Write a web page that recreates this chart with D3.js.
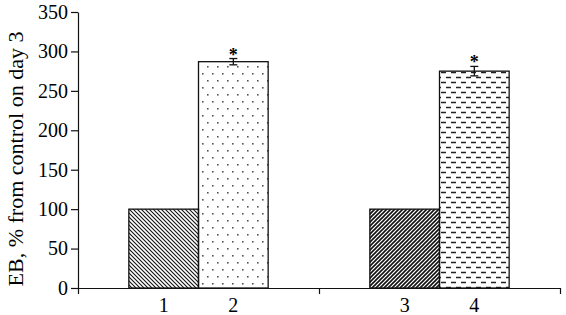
<!DOCTYPE html>
<html>
<head>
<script src="https://cdn.jsdelivr.net/npm/d3@7"></script>
<style>
  svg text, svg .tick text { font-family: "Liberation Serif" !important; fill: #000; }
</style>
</head>
<body style="margin:0">
<script>
// Chart size and margins
const WIDTH = 566;
const HEIGHT = 315;
const MARGIN = { left: 78, right: 6, top: 12, bottom: 27 };
const FONT = "Liberation Serif";

// Data
const groups = ["A", "B"];
const barLabels = ["1", "2", "3", "4"];
const barGroup = ["A", "A", "B", "B"];
const values = [100, 287, 100, 275];
const errors = [0, 4, 0, 6];
const marked = [false, true, false, true];
const yTicks = [0, 50, 100, 150, 200, 250, 300, 350];
const yLabel = "EB, % from control on day 3";
const patterns = ["hatchBack", "dots", "hatchFwd", "dashes"];

const svg = d3.select("body").append("svg")
  .attr("width", WIDTH)
  .attr("height", HEIGHT)
  .attr("font-family", FONT);

// Fill patterns for the bars
const defs = svg.append("defs");

let p = defs.append("pattern").attr("id", "hatchBack")
  .attr("patternUnits", "userSpaceOnUse").attr("width", 4).attr("height", 4);
p.append("path").attr("d", "M-1,-1 L5,5 M-1,3 L1,5 M3,-1 L5,1")
  .attr("stroke", "#111").attr("stroke-width", 1.1);

p = defs.append("pattern").attr("id", "hatchFwd")
  .attr("patternUnits", "userSpaceOnUse").attr("width", 4).attr("height", 4);
p.append("path").attr("d", "M-1,5 L5,-1 M-1,1 L1,-1 M3,5 L5,3")
  .attr("stroke", "#111").attr("stroke-width", 1.6);

p = defs.append("pattern").attr("id", "dots")
  .attr("patternUnits", "userSpaceOnUse").attr("width", 10).attr("height", 14);
p.append("rect").attr("x", 2).attr("y", 3).attr("width", 1.6).attr("height", 1.6).attr("fill", "#555");
p.append("rect").attr("x", 7).attr("y", 10).attr("width", 1.6).attr("height", 1.6).attr("fill", "#555");

p = defs.append("pattern").attr("id", "dashes")
  .attr("patternUnits", "userSpaceOnUse").attr("width", 10).attr("height", 10);
p.append("path").attr("d", "M1,2.5 H6 M6,7.5 H11 M-4,7.5 H1")
  .attr("stroke", "#222").attr("stroke-width", 1.4);

// Scales
const x0 = d3.scaleBand()
  .domain(groups)
  .range([MARGIN.left, WIDTH - MARGIN.right])
  .padding(0);
const x1 = d3.scaleBand()
  .domain([0, 1])
  .range([0, x0.bandwidth()])
  .paddingInner(0)
  .paddingOuter(0.73);
const y = d3.scaleLinear()
  .domain([0, 350])
  .range([HEIGHT - MARGIN.bottom, MARGIN.top]);

const barX = (i) => x0(barGroup[i]) + x1(i % 2);

// Bars
svg.append("g").selectAll("rect")
  .data(values)
  .join("rect")
  .attr("x", (d, i) => barX(i))
  .attr("y", (d) => y(d))
  .attr("width", x1.bandwidth())
  .attr("height", (d) => y(0) - y(d))
  .attr("fill", (d, i) => `url(#${patterns[i]})`)
  .attr("stroke", "#111")
  .attr("stroke-width", 1.3);

// Error bars and significance marks
const eb = svg.append("g").attr("stroke", "#111").attr("stroke-width", 1.3);
values.forEach((v, i) => {
  if (!errors[i]) return;
  const cx = barX(i) + x1.bandwidth() / 2;
  eb.append("line").attr("x1", cx).attr("x2", cx).attr("y1", y(v + errors[i])).attr("y2", y(v - errors[i]));
  eb.append("line").attr("x1", cx - 4).attr("x2", cx + 4).attr("y1", y(v + errors[i])).attr("y2", y(v + errors[i]));
  eb.append("line").attr("x1", cx - 4).attr("x2", cx + 4).attr("y1", y(v - errors[i])).attr("y2", y(v - errors[i]));
  if (marked[i]) {
    svg.append("text").attr("x", cx).attr("y", y(v + errors[i]) + 2)
      .attr("text-anchor", "middle")
      .style("font-size", "18px").style("font-weight", "bold")
      .text("*");
  }
});

// Y axis
const yAxis = svg.append("g")
  .attr("transform", `translate(${MARGIN.left},0)`)
  .call(d3.axisLeft(y).tickValues(yTicks).tickSize(7).tickPadding(3).tickSizeOuter(0));
yAxis.attr("font-family", FONT).attr("font-size", 20);
yAxis.selectAll("text").style("font-size", "20px");
yAxis.selectAll("line, path").attr("stroke", "#111").attr("stroke-width", 1.2);

// X axis with ticks at group boundaries
const xEdges = d3.scaleLinear().domain([0, groups.length]).range(x0.range());
const xAxis = svg.append("g")
  .attr("transform", `translate(0,${y(0)})`)
  .call(d3.axisBottom(xEdges).tickValues(d3.range(groups.length + 1)).tickFormat("").tickSize(6).tickSizeOuter(0));
xAxis.selectAll("line, path").attr("stroke", "#111").attr("stroke-width", 1.2);

// Bar number labels
svg.append("g").selectAll("text")
  .data(barLabels)
  .join("text")
  .attr("x", (d, i) => barX(i) + x1.bandwidth() / 2)
  .attr("y", y(0) + 24)
  .attr("text-anchor", "middle")
  .style("font-size", "20px")
  .text((d) => d);

// Y axis title
svg.append("text")
  .attr("transform", `translate(23,${(MARGIN.top + y(0)) / 2 + 9}) rotate(-90)`)
  .attr("text-anchor", "middle")
  .style("font-size", "22px")
  .text(yLabel);
</script>
</body>
</html>
